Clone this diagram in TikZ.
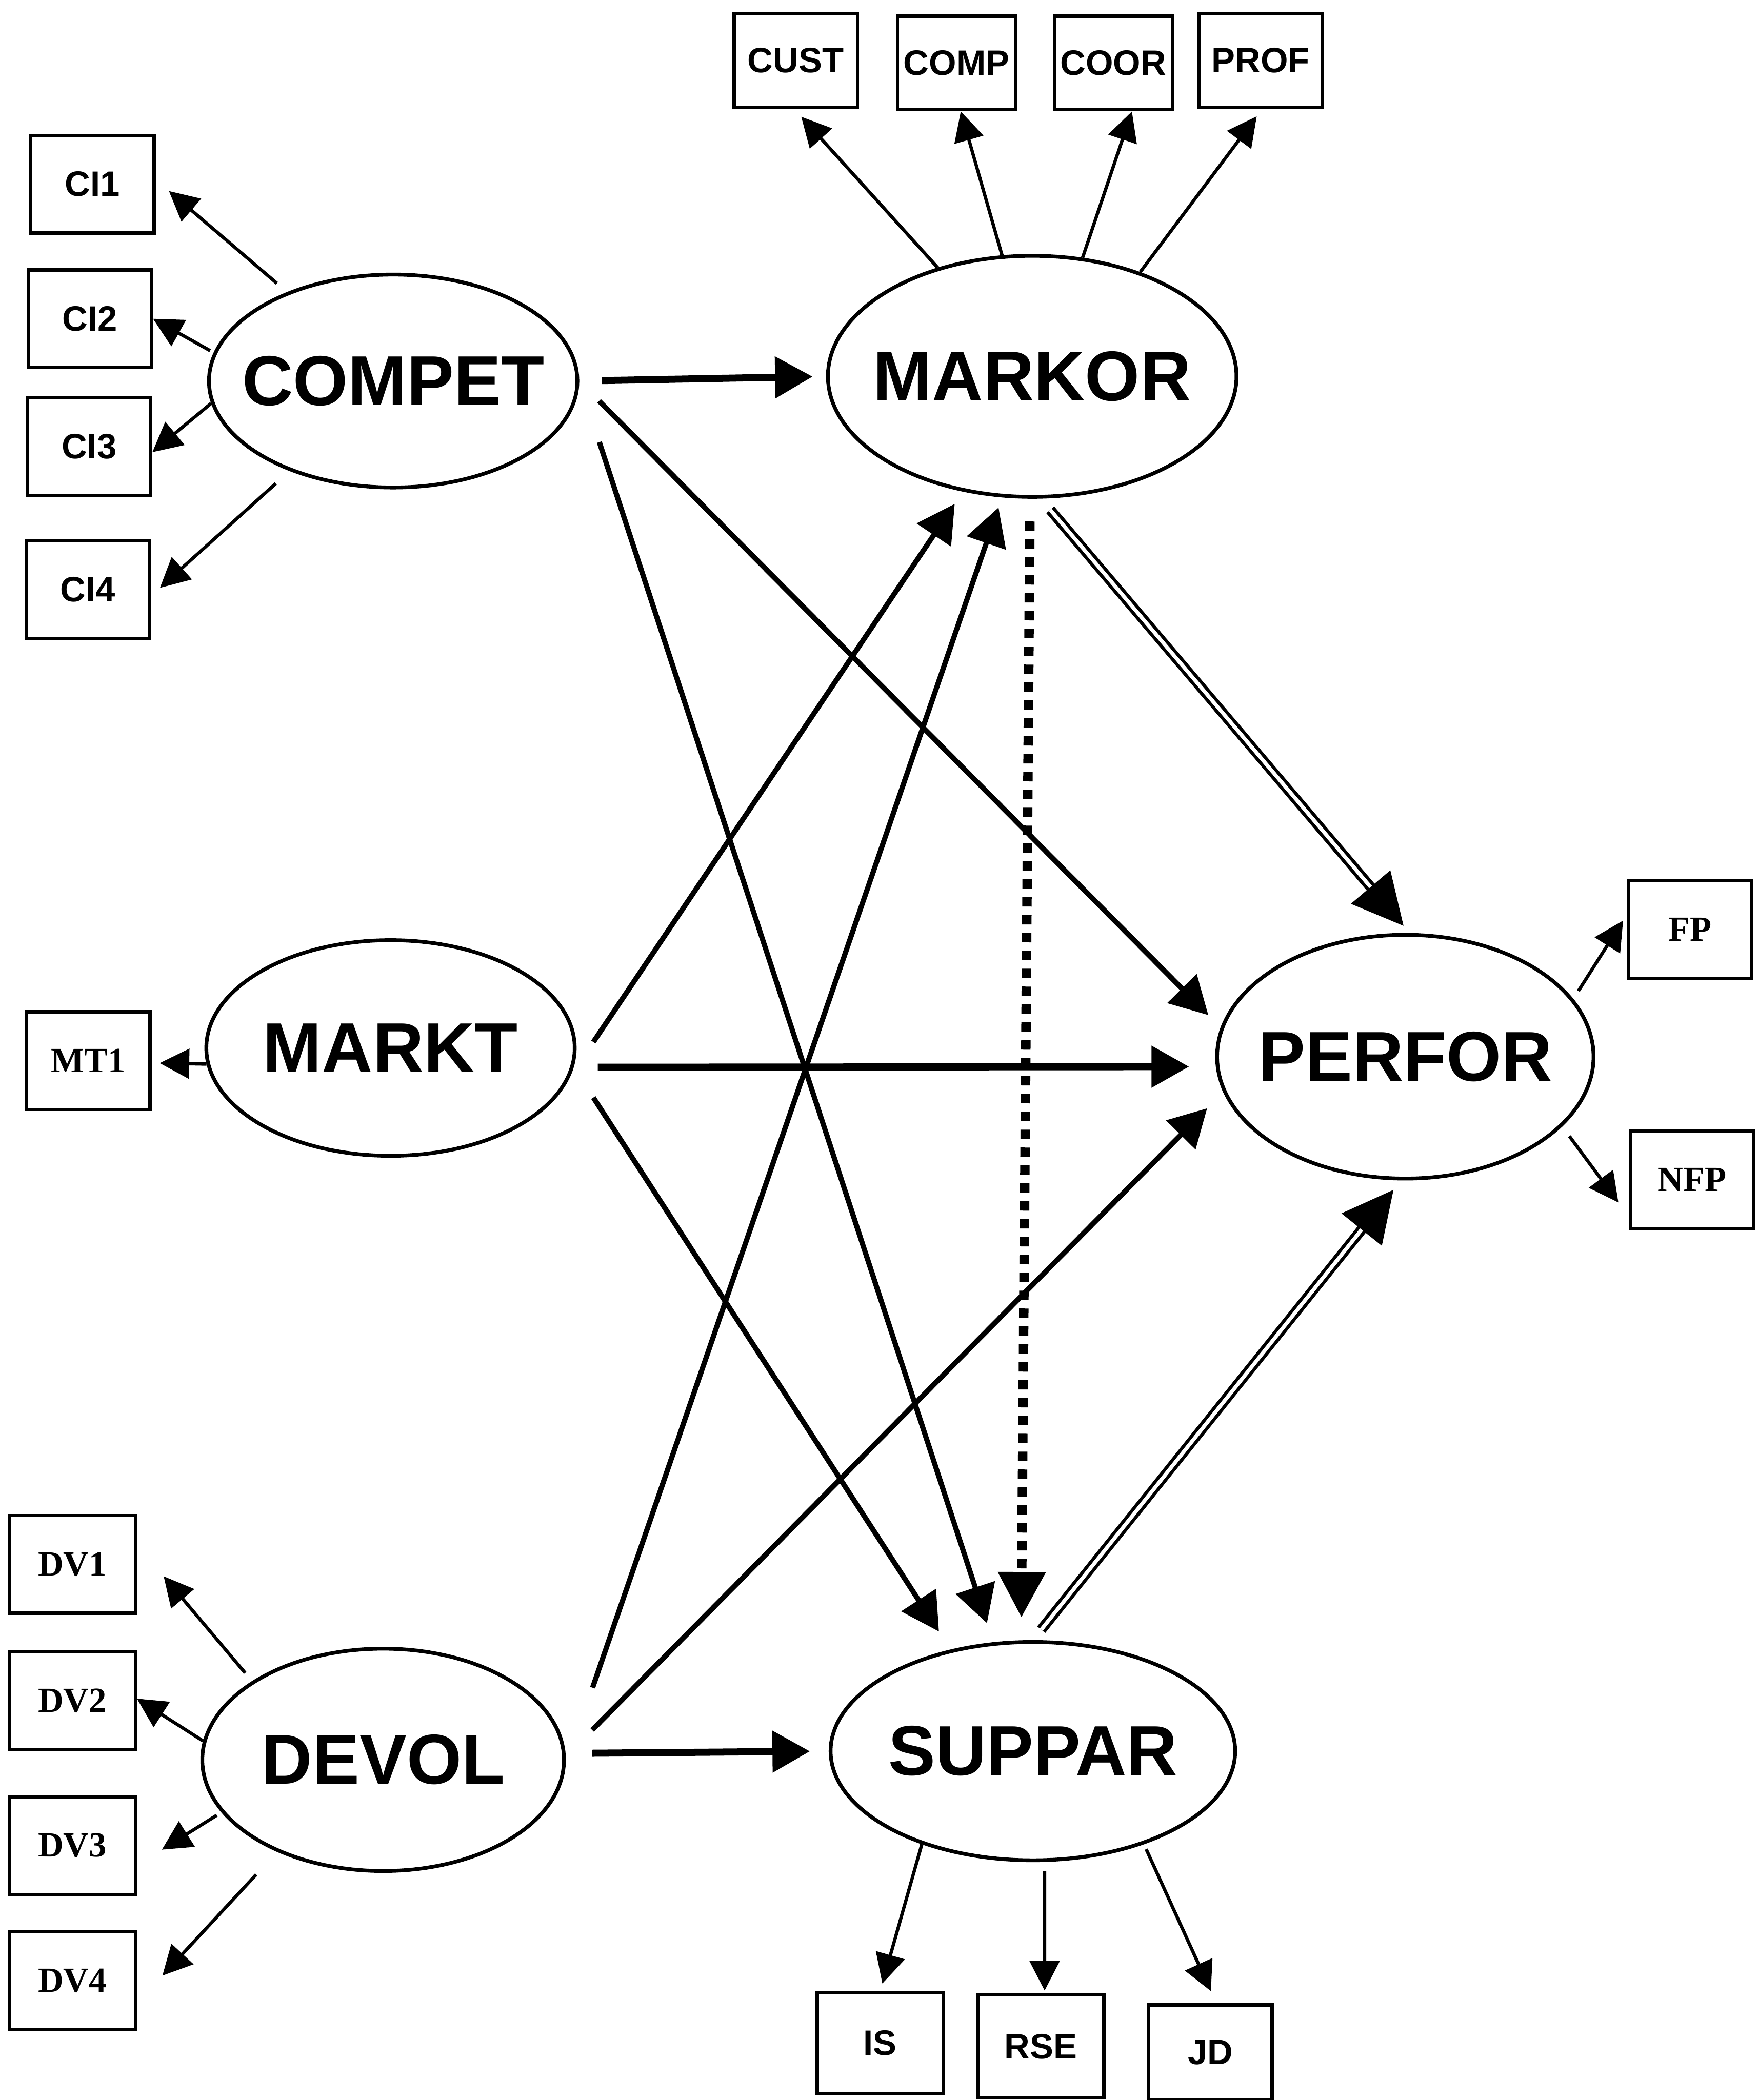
\documentclass[tikz,border=0pt]{standalone}
\usepackage{fontspec}
\setmainfont{Liberation Sans}
\newfontfamily\timesfont{Liberation Serif}
\usetikzlibrary{shapes.geometric,arrows.meta}

\tikzset{
  latent/.style={ellipse, draw, line width=0.8pt, inner sep=0pt},
  bigtext/.style={font=\fontsize{15}{18}\selectfont\bfseries},
  obs/.style={draw, line width=0.7pt, minimum width=0.92cm, minimum height=0.73cm,
    inner sep=1pt, font=\fontsize{7.5}{9}\selectfont\bfseries},
  obst/.style={obs, font=\fontsize{7.5}{9}\selectfont\timesfont\bfseries},
  load/.style={line width=0.7pt, -{Triangle[length=0.22cm,width=0.22cm]}},
  link/.style={line width=1.1pt, -{Triangle[length=0.28cm,width=0.3cm]}},
  dotlink/.style={line width=2pt, dash pattern=on 2pt off 1.8pt,
    -{Triangle[length=0.34cm,width=0.34cm]}},
  dbllink/.style={double, line width=0.7pt, double distance=0.8pt,
    -{Triangle[length=0.38cm,width=0.38cm]}}
}

\begin{document}
\begin{tikzpicture}
  \path[fill=white, use as bounding box] (0,0) rectangle (13.12,-15.68);

  % latent variables
  \node[latent, minimum width=2.75cm, minimum height=1.59cm, label={[bigtext]center:COMPET}] (compet) at (2.935,-2.845) {};
  \node[latent, minimum width=3.05cm, minimum height=1.80cm, label={[bigtext]center:MARKOR}] (markor) at (7.705,-2.81) {};
  \node[latent, minimum width=2.75cm, minimum height=1.61cm, label={[bigtext]center:MARKT}] (markt) at (2.915,-7.825) {};
  \node[latent, minimum width=2.81cm, minimum height=1.82cm, label={[bigtext]center:PERFOR}] (perfor) at (10.49,-7.89) {};
  \node[latent, minimum width=2.70cm, minimum height=1.66cm, label={[bigtext]center:DEVOL}] (devol) at (2.86,-13.14) {};
  \node[latent, minimum width=3.02cm, minimum height=1.63cm, label={[bigtext]center:SUPPAR}] (suppar) at (7.71,-13.075) {};

  % indicators
  \node[obs, minimum height=0.70cm] (cust) at (5.94,-0.45) {CUST};
  \node[obs, minimum width=0.88cm, minimum height=0.70cm] (comp) at (7.14,-0.47) {COMP};
  \node[obs, minimum width=0.88cm, minimum height=0.70cm] (coor) at (8.31,-0.47) {COOR};
  \node[obs, minimum height=0.70cm] (prof) at (9.41,-0.45) {PROF};
  \node[obs] (ci1) at (0.69,-1.375) {CI1};
  \node[obs] (ci2) at (0.67,-2.38) {CI2};
  \node[obs] (ci3) at (0.665,-3.335) {CI3};
  \node[obs] (ci4) at (0.655,-4.40) {CI4};
  \node[obst] (mt1) at (0.66,-7.92) {MT1};
  \node[obst] (fp) at (12.615,-6.94) {FP};
  \node[obst] (nfp) at (12.63,-8.81) {NFP};
  \node[obst, minimum width=0.94cm] (dv1) at (0.54,-11.68) {DV1};
  \node[obst, minimum width=0.94cm] (dv2) at (0.54,-12.70) {DV2};
  \node[obst, minimum width=0.94cm] (dv3) at (0.54,-13.78) {DV3};
  \node[obst, minimum width=0.94cm] (dv4) at (0.54,-14.79) {DV4};
  \node[obs, minimum width=0.94cm, minimum height=0.75cm] (is) at (6.57,-15.255) {IS};
  \node[obs, minimum width=0.94cm, minimum height=0.77cm] (rse) at (7.77,-15.28) {RSE};
  \node[obs, minimum height=0.71cm] (jd) at (9.035,-15.325) {JD};

  % measurement arrows
  \draw[load, shorten >=0.08cm] (markor.131) -- (cust.-92);
  \draw[load] (markor.104) -- (comp.-85);
  \draw[load] (markor.67) -- (coor.-69);
  \draw[load, shorten >=0.07cm] (markor.44) -- (prof.-88);
  \draw[load, shorten <=0.1cm, shorten >=0.13cm] (compet.140) -- (ci1.4);
  \draw[load, shorten <=0.03cm] (compet.171) -- (ci2.east);
  \draw[load] (compet.187) -- (ci3.-5);
  \draw[load, shorten <=0.14cm, shorten >=0.09cm] (compet.221) -- (ci4.-6);
  \draw[load, shorten >=0.06cm] (markt.185) -- (mt1.-2);
  \draw[load, shorten <=0.08cm, shorten >=0.31cm] (devol.149) -- (dv1.17);
  \draw[load] (devol.174) -- (dv2.2);
  \draw[load, shorten <=0.04cm, shorten >=0.22cm] (devol.198) -- (dv3.-17);
  \draw[load, shorten <=0.23cm, shorten >=0.28cm] (devol.221) -- (dv4.-19);
  \draw[load, shorten <=0.07cm, shorten >=0.05cm] (perfor.19) -- (fp.167);
  \draw[load, shorten <=0.09cm, shorten >=0.13cm] (perfor.-24) -- (nfp.210);
  \draw[load, shorten >=0.06cm] (suppar.220) -- (is.north);
  \draw[load, shorten <=0.07cm, shorten >=0.02cm] (suppar.-84) -- (rse.86);
  \draw[load, shorten <=0.04cm, shorten >=0.1cm] (suppar.-40) -- (jd.83);

  % structural paths
  \draw[link, line width=1.5pt, shorten <=0.17cm, shorten >=0.1cm] (compet.east) -- (markor.west);
  \draw[link, shorten <=0.21cm, shorten >=0.13cm] (compet.east) -- (perfor.171);
  \draw[link, shorten <=0.48cm, shorten >=0.15cm] (compet.east) -- (suppar.110);
  \draw[link, shorten <=0.31cm, shorten >=0.11cm] (markt.-9) -- (markor.-121);
  \draw[link, line width=1.5pt, shorten <=0.18cm, shorten >=0.2cm] (markt.-6) -- (perfor.183);
  \draw[link, shorten <=0.27cm, shorten >=0.16cm] (markt.-6) -- (suppar.129);
  \draw[link, shorten <=0.62cm, shorten >=0.08cm] (devol.-2) -- (markor.-104);
  \draw[link, shorten <=0.28cm, shorten >=0.17cm] (devol.1) -- (perfor.191);
  \draw[link, line width=1.5pt, shorten <=0.2cm, shorten >=0.14cm] (devol.2) -- (suppar.west);
  \draw[dotlink, shorten <=0.17cm, shorten >=0.17cm] (markor.269) -- (suppar.96);
  \draw[dbllink, shorten <=0.11cm, shorten >=0.07cm] (markor.-86) -- (perfor.88);
  \draw[dbllink, shorten <=0.1cm, shorten >=0.09cm] (suppar.north) -- (perfor.-92);
\end{tikzpicture}
\end{document}
